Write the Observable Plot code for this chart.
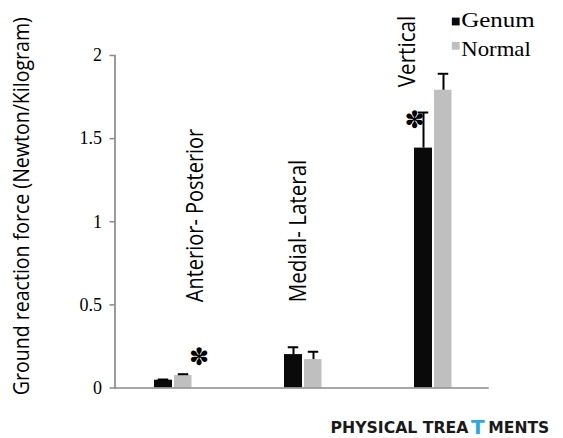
<!DOCTYPE html>
<html><head><meta charset="utf-8">
<script src="https://cdn.jsdelivr.net/npm/d3@7"></script>
<script src="https://cdn.jsdelivr.net/npm/@observablehq/plot@0.6"></script>
<style>html,body{margin:0;padding:0;background:#fff} svg{display:block}</style>
</head><body><div id="chart"></div>
<script>
// ---- data ----
const categories = ["Anterior- Posterior", "Medial- Lateral", "Vertical"];
const seriesNames = ["Genum", "Normal"];
const genum = [0.047, 0.201, 1.443];
const genumErr = [0.004, 0.044, 0.214];
const normal = [0.075, 0.171, 1.791];
const normalErr = [0.008, 0.047, 0.099];
const yTicks = [0, 0.5, 1, 1.5, 2];
const yTickLabels = ["0", "0.5", "1", "1.5", "2"];
const yTitle = "Ground reaction force (Newton/Kilogram)";
const sigCategories = ["Anterior- Posterior", "Vertical"];
const sigLevels = [0.183, 1.613];
const sigSymbol = "\u273D";
const watermarkParts = ["PHYSICAL TREA", "T", "MENTS"];

// ---- table ----
const genumRows = categories.map((c, i) => ({category: c, series: seriesNames[0], value: genum[i], err: genumErr[i]}));
const normalRows = categories.map((c, i) => ({category: c, series: seriesNames[1], value: normal[i], err: normalErr[i]}));
const sigRows = sigCategories.map((c, i) => ({category: c, y: sigLevels[i]}));

const axisGray = "#898989";
const genumColor = "#0a0a0a";
const normalColor = "#bfbfbf";
const sans = "'Open Sans', sans-serif";
const serif = "'Liberation Serif', 'Times New Roman', serif";

const labelOffsets = [29, 2, -18.5];
const labelBottoms = [0.516, 0.516, 1.809];

const chart = Plot.plot({
  width: 563,
  height: 438,
  marginLeft: 114.5,
  marginRight: 74.25,
  marginTop: 55,
  marginBottom: 50.5,
  style: {fontFamily: sans, background: "#fff", color: "#000"},
  x: {domain: categories, range: [107.25, 498.75], padding: 0, axis: null},
  y: {domain: [0, 2], axis: null},
  marks: [
    Plot.barY(genumRows, {x: "category", y: "value", fill: genumColor, insetLeft: 46, insetRight: 66}),
    Plot.barY(normalRows, {x: "category", y: "value", fill: normalColor, insetLeft: 66, insetRight: 46.5}),
    Plot.ruleX(genumRows, {x: "category", y1: "value", y2: d => d.value + d.err, dx: -10, stroke: "#000", strokeWidth: 2}),
    Plot.tickY(genumRows, {x: "category", y: d => d.value + d.err, dx: -10, insetLeft: 59.75, insetRight: 59.75, stroke: "#000", strokeWidth: 2}),
    Plot.ruleX(normalRows, {x: "category", y1: "value", y2: d => d.value + d.err, dx: 10, stroke: "#000", strokeWidth: 2}),
    Plot.tickY(normalRows, {x: "category", y: d => d.value + d.err, dx: 10, insetLeft: 59.75, insetRight: 59.75, stroke: "#000", strokeWidth: 2}),
    Plot.ruleY([0], {stroke: axisGray, strokeWidth: 1.7}),
    Plot.frame({anchor: "left", stroke: axisGray, strokeWidth: 1.7}),
    Plot.axisY({
      ticks: yTicks,
      tickFormat: d => yTickLabels[yTicks.indexOf(d)],
      tickSize: 5, tickPadding: 8,
      stroke: axisGray, strokeWidth: 1.5,
      fontSize: 18, fontFamily: serif, label: null
    }),
    // category labels (vertical)
    ...categories.map((c, i) => Plot.text([c], {
      x: d => d, y: () => labelBottoms[i], text: d => d,
      rotate: -90, textAnchor: "start", lineAnchor: "bottom",
      dx: labelOffsets[i], fontSize: 20, fontFamily: sans, fill: "#000"
    })),
    // significance markers
    Plot.text(sigRows.slice(0, 1), {x: "category", y: "y", text: () => sigSymbol, dx: 25.5, fontSize: 24, fontFamily: "DejaVu Sans", fill: "#000"}),
    Plot.text(sigRows.slice(1), {x: "category", y: "y", text: () => sigSymbol, dx: -19, fontSize: 24, fontFamily: "DejaVu Sans", fill: "#000"}),
    // y title
    Plot.text([yTitle], {frameAnchor: "left", rotate: -90, textAnchor: "middle", lineAnchor: "bottom", dx: -86, dy: -15.5, fontSize: 19.5, fontFamily: sans, fill: "#000"}),
    // legend
    Plot.dot([seriesNames[0]], {frameAnchor: "top-right", symbol: "square", r: 4.4, fill: genumColor, stroke: null, dx: -33.5, dy: -34}),
    Plot.dot([seriesNames[1]], {frameAnchor: "top-right", symbol: "square", r: 4.4, fill: normalColor, stroke: null, dx: -33.5, dy: -9.7}),
    Plot.text([seriesNames[0]], {frameAnchor: "top-right", textAnchor: "start", lineAnchor: "bottom", dx: -28, dy: -28.3, fontSize: 22, fontFamily: serif, fill: "#000"}),
    Plot.text([seriesNames[1]], {frameAnchor: "top-right", textAnchor: "start", lineAnchor: "bottom", dx: -28, dy: 0, fontSize: 22, fontFamily: serif, fill: "#000"}),
    // watermark
    Plot.text([watermarkParts[0]], {frameAnchor: "bottom-right", textAnchor: "start", lineAnchor: "bottom", dx: -158.75, dy: 44.5, fontSize: 15, fontWeight: "bold", fontFamily: "DejaVu Sans", fill: "#1a1a1a"}),
    Plot.text([watermarkParts[1]], {frameAnchor: "bottom-right", textAnchor: "middle", lineAnchor: "bottom", dx: -11.5, dy: 46, fontSize: 20, fontWeight: "bold", fontFamily: "DejaVu Sans", fill: "#29a9e1"}),
    Plot.text([watermarkParts[2]], {frameAnchor: "bottom-right", textAnchor: "start", lineAnchor: "bottom", dx: -1, dy: 44.5, fontSize: 15, fontWeight: "bold", fontFamily: "DejaVu Sans", fill: "#1a1a1a"})
  ]
});

// fit the stretched text of the original to its measured lengths
const textLengths = new Map([
  [categories[0], 173.5], [categories[1], 142.5], [categories[2], 71.5],
  [yTitle, 378], [seriesNames[0], 73.5], [seriesNames[1], 69.5],
  [watermarkParts[0], 138], [watermarkParts[2], 61]
]);
const widened = new Set([...categories, yTitle]);
d3.select(chart).selectAll("text").each(function () {
  const sel = d3.select(this);
  const len = textLengths.get(this.textContent);
  if (len) sel.attr("textLength", len).attr("lengthAdjust", "spacingAndGlyphs");
  const tr = sel.attr("transform");
  if (widened.has(this.textContent) && tr && tr.includes("rotate")) sel.attr("transform", tr + " scale(1,1.15)");
});
document.getElementById("chart").appendChild(chart);
</script>
</body></html>
